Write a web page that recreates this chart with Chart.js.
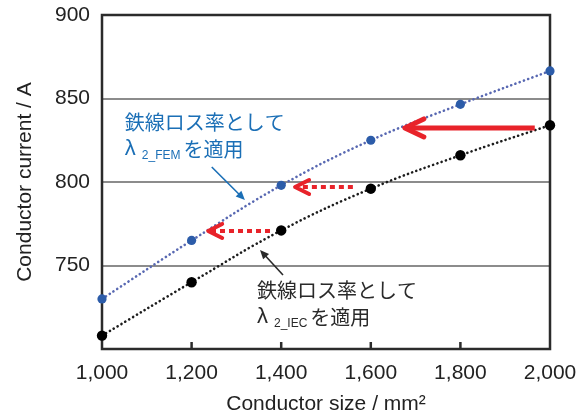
<!DOCTYPE html>
<html><head><meta charset="utf-8">
<script src="https://cdn.jsdelivr.net/npm/chart.js@4/dist/chart.umd.min.js"></script>
<style>html,body{margin:0;padding:0;background:#fff;} canvas{display:block;}</style>
</head><body>
<canvas id="c" width="587" height="418"></canvas>
<script>
// ---- data ----
const sizes = [1000, 1200, 1400, 1600, 1800, 2000];
const currentFEM = [730, 765, 798, 825, 846.5, 866.5];
const currentIEC = [708, 740, 771, 796, 816, 834];
const xTicks = [1000, 1200, 1400, 1600, 1800, 2000];
const yTicks = [700, 750, 800, 850, 900];
const xTitle = 'Conductor size / mm²';
const yTitle = 'Conductor current / A';
const noteLine1 = '鉄線ロス率として';
const noteLine2 = 'を適用';
const noteFEM = '2_FEM';
const noteIEC = '2_IEC';

// shift arrows (data coords): [fromSize, toSize, current]
const shiftSolid = [[1966, 1676, 832.4]];
const shiftDashed = [[1560, 1431, 797], [1375, 1237, 770.7]];

const notes = [
  {sub: noteFEM, x: 1051, y1: 835.5, y2: 819.8, color: '#1b6fb6', arrow: [1245, 809, 1319, 789.2]},
  {sub: noteIEC, x: 1346, y1: 735.3, y2: 719.2, color: '#2a2a2a', arrow: [1404, 744.3, 1352.7, 759.3]}
];

const LATIN = "'Liberation Sans', Arial, sans-serif";
const CJK = "'Noto Sans CJK JP', sans-serif";

function px(chart, x, y) {
  return [chart.scales.x.getPixelForValue(x), chart.scales.y.getPixelForValue(y)];
}

function redArrow(ctx, x1, x2, y, w, dash, hl, hw) {
  ctx.save();
  ctx.strokeStyle = '#e8232a';
  ctx.lineWidth = w;
  ctx.setLineDash(dash);
  ctx.beginPath(); ctx.moveTo(x1, y); ctx.lineTo(x2 + 3, y); ctx.stroke();
  ctx.setLineDash([]);
  ctx.lineCap = 'round'; ctx.lineJoin = 'round';
  ctx.beginPath(); ctx.moveTo(x2 + hl, y - hw); ctx.lineTo(x2, y); ctx.lineTo(x2 + hl, y + hw); ctx.stroke();
  ctx.restore();
}

function pointerArrow(ctx, x1, y1, x2, y2, color) {
  const ang = Math.atan2(y2 - y1, x2 - x1);
  const hl = 9, hw = 4;
  ctx.save();
  ctx.strokeStyle = color; ctx.fillStyle = color; ctx.lineWidth = 1.6;
  ctx.beginPath(); ctx.moveTo(x1, y1);
  ctx.lineTo(x2 - Math.cos(ang) * hl * 0.8, y2 - Math.sin(ang) * hl * 0.8); ctx.stroke();
  ctx.beginPath();
  ctx.moveTo(x2, y2);
  ctx.lineTo(x2 - Math.cos(ang) * hl - Math.sin(ang) * hw, y2 - Math.sin(ang) * hl + Math.cos(ang) * hw);
  ctx.lineTo(x2 - Math.cos(ang) * hl + Math.sin(ang) * hw, y2 - Math.sin(ang) * hl - Math.cos(ang) * hw);
  ctx.closePath(); ctx.fill();
  ctx.restore();
}

const framePlugin = {
  id: 'frame',
  beforeDatasetsDraw(chart) {
    const {ctx, chartArea: a} = chart;
    ctx.save();
    ctx.strokeStyle = '#2b2b2b';
    ctx.lineWidth = 2.5;
    ctx.strokeRect(a.left, a.top, a.right - a.left, a.bottom - a.top);
    xTicks.slice(1, -1).forEach(v => {
      const x = chart.scales.x.getPixelForValue(v);
      ctx.beginPath(); ctx.moveTo(x, a.bottom); ctx.lineTo(x, a.bottom - 7); ctx.stroke();
    });
    ctx.restore();
  },
  afterDatasetsDraw(chart) {
    const ctx = chart.ctx;
    shiftSolid.forEach(([f, t, y]) => {
      const [x1, yy] = px(chart, f, y);
      const [x2] = px(chart, t, y);
      redArrow(ctx, x1, x2, yy, 5, [], 19, 9);
    });
    shiftDashed.forEach(([f, t, y]) => {
      const [x1, yy] = px(chart, f, y);
      const [x2] = px(chart, t, y);
      redArrow(ctx, x1, x2, yy, 4, [5, 4], 14, 7);
    });
    notes.forEach(n => {
      const [tx, ty1] = px(chart, n.x, n.y1);
      const [, ty2] = px(chart, n.x, n.y2);
      ctx.save();
      ctx.fillStyle = n.color;
      ctx.textBaseline = 'middle';
      ctx.textAlign = 'left';
      ctx.font = '20px ' + CJK;
      ctx.fillText(noteLine1, tx, ty1);
      ctx.font = '22px ' + LATIN;
      ctx.fillText('λ', tx, ty2);
      let cx = tx + ctx.measureText('λ').width + 6;
      ctx.font = '12px ' + LATIN;
      ctx.textBaseline = 'alphabetic';
      ctx.fillText(n.sub, cx, ty2 + 10);
      cx += ctx.measureText(n.sub).width + 3;
      ctx.textBaseline = 'middle';
      ctx.font = '20px ' + CJK;
      ctx.fillText(noteLine2, cx, ty2);
      ctx.restore();
      const [ax1, ay1] = px(chart, n.arrow[0], n.arrow[1]);
      const [ax2, ay2] = px(chart, n.arrow[2], n.arrow[3]);
      pointerArrow(ctx, ax1, ay1, ax2, ay2, n.color);
    });
  }
};

new Chart(document.getElementById('c'), {
  type: 'line',
  data: {
    datasets: [
      {
        data: sizes.map((s, i) => ({x: s, y: currentFEM[i]})),
        borderColor: '#5868b2', borderWidth: 2.6, borderDash: [0.1, 4.4], borderCapStyle: 'round',
        pointRadius: 4.6, pointBackgroundColor: '#2c5ca9', pointBorderWidth: 0,
        tension: 0.4, clip: false
      },
      {
        data: sizes.map((s, i) => ({x: s, y: currentIEC[i]})),
        borderColor: '#1c1c1c', borderWidth: 2.6, borderDash: [0.1, 4.4], borderCapStyle: 'round',
        pointRadius: 5.2, pointBackgroundColor: '#000', pointBorderWidth: 0,
        tension: 0.4, clip: false
      }
    ]
  },
  options: {
    responsive: false, animation: false, devicePixelRatio: 1,
    layout: {padding: {left: 0, right: 37, top: 15, bottom: 0}},
    plugins: {legend: {display: false}, tooltip: {enabled: false}},
    scales: {
      x: {
        type: 'linear', min: 1000, max: 2000,
        afterBuildTicks: s => { s.ticks = xTicks.map(v => ({value: v})); },
        ticks: {
          font: {family: LATIN, size: 21}, color: '#222', padding: 12,
          maxRotation: 0, autoSkip: false,
          callback: v => v.toLocaleString('en-US')
        },
        grid: {display: false, drawTicks: false},
        border: {display: false},
        title: {display: true, text: xTitle, font: {family: LATIN, size: 21}, color: '#222', padding: {top: 0, bottom: 1.4}},
        afterFit: s => { s.height = 69; s.paddingLeft = 0; s.paddingRight = 0; }
      },
      y: {
        type: 'linear', min: 700, max: 900,
        afterBuildTicks: s => { s.ticks = yTicks.map(v => ({value: v})); },
        ticks: {
          font: {family: LATIN, size: 21}, color: '#222', padding: 12,
          callback: v => (v === 700 ? '' : String(v))
        },
        grid: {
          drawTicks: false, lineWidth: 2,
          color: c => (c.tick && (c.tick.value === 700 || c.tick.value === 900)) ? 'rgba(0,0,0,0)' : '#8c8c8c'
        },
        border: {display: false},
        title: {display: true, text: yTitle, font: {family: LATIN, size: 21}, color: '#222', padding: {top: 12.4, bottom: 0}},
        afterFit: s => { s.width = 102; s.paddingTop = 0; s.paddingBottom = 0; }
      }
    }
  },
  plugins: [framePlugin]
});
</script>
</body></html>
